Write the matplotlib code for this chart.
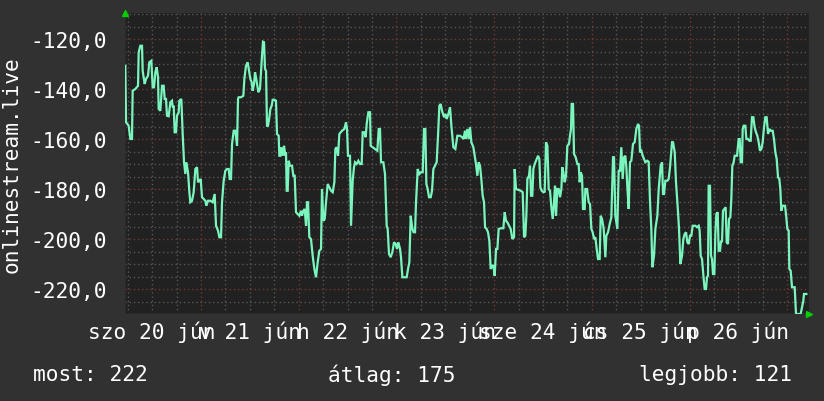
import numpy as np
import matplotlib
matplotlib.use("Agg")
import matplotlib.pyplot as plt

# -----------------------------------------
# data: hours since szo 20 jún 00:00, rank (negated)
# -----------------------------------------
hours = [
    5.41, 5.58, 6.23, 6.64, 7.05, 7.21, 7.87, 8.53, 8.69, 9.10, 9.51, 9.67, 10.16, 10.49, 10.98,
    11.31, 11.80, 12.13, 12.46, 12.78, 13.11, 13.44, 13.60, 14.01, 14.42, 14.83, 15.08, 15.40,
    15.65, 16.06, 16.47, 16.88, 17.04, 17.29, 17.53, 17.86, 18.11, 18.52, 18.68, 19.17, 19.50,
    19.83, 20.15, 20.40, 20.81, 21.14, 21.38, 21.79, 22.20, 22.61, 23.02, 23.27, 23.59, 23.92,
    24.25, 24.66, 25.07, 25.31, 25.72, 26.30, 26.87, 27.36, 27.69, 28.18, 28.51, 28.92, 29.16,
    29.57, 29.98, 30.39, 30.80, 31.05, 31.37, 31.62, 32.03, 32.44, 32.85, 33.09,
    33.25, 33.83, 34.40, 34.65, 35.05, 35.46, 35.87, 36.12, 36.45, 36.69, 37.02, 37.27, 37.51,
    37.76, 38.09, 38.49, 38.74, 38.98, 39.23, 39.48, 39.72, 39.97, 40.21, 40.46, 40.79, 41.03,
    41.36, 41.61, 42.02, 42.42, 42.67, 43.08, 43.24, 43.49, 43.73, 44.06, 44.39, 44.72, 44.88,
    45.05, 45.29, 45.54, 45.86, 46.36, 46.68, 47.01, 47.34, 47.75, 48.16, 48.57, 48.81, 49.14,
    49.47, 49.80, 50.04, 50.29, 50.61, 51.02, 51.43, 51.84, 52.25, 52.66, 53.07, 53.48, 53.72,
    54.05, 54.38, 54.71, 55.12, 55.53, 55.94, 56.35, 56.76, 57.00, 57.33, 57.66, 57.98, 58.64,
    59.21, 59.62, 59.87, 60.11, 60.60, 60.85,
    61.26, 61.58, 61.83, 62.24, 62.65, 63.06, 63.47, 63.71, 64.12, 64.45, 64.70, 65.11, 65.52,
    65.68, 66.17, 66.74, 67.32, 67.65, 67.97, 68.22, 68.79, 69.20, 69.61, 69.86, 70.18, 70.59,
    71.00, 71.41, 71.82, 72.15, 72.48, 72.89, 73.13, 73.46, 73.95, 74.52, 74.93, 75.18, 75.51,
    75.92, 76.24, 76.57, 76.82, 77.23, 77.64, 78.05, 78.46, 78.78, 79.11, 79.36, 79.68, 80.01,
    80.42, 80.75, 81.08, 81.48, 81.89, 82.22, 82.55, 82.88, 83.21, 83.70, 84.02, 84.35, 84.76,
    85.17, 85.50, 85.99, 86.48, 86.97, 87.63, 88.12, 88.45, 88.86,
    89.02, 89.43, 89.75, 90.08, 90.41, 90.90, 91.23, 91.55, 91.88, 92.21, 92.54, 92.86, 93.19,
    93.52, 93.77, 94.17, 94.50, 94.83, 95.16, 95.48, 95.81, 96.14, 96.47, 96.80, 97.12, 97.61,
    98.27, 98.60, 98.92, 99.25, 99.66, 100.07, 100.48, 100.89, 101.05, 101.38, 101.87, 102.53,
    103.02, 103.35, 103.67, 103.92, 104.17, 104.57, 104.82, 105.07, 105.39, 105.64, 105.97,
    106.46, 106.79, 107.11, 107.36, 107.69, 108.10, 108.42, 108.75, 109.08, 109.41, 109.73,
    110.06, 110.39, 110.71, 110.96, 111.21, 111.53, 111.86, 112.19, 112.52, 112.76, 113.01,
    113.33, 113.66, 113.99, 114.40, 114.64, 114.89, 115.05, 115.38, 115.63, 116.04, 116.45,
    116.77, 117.02,
    117.26, 117.59, 117.84, 118.25, 118.41, 118.82, 119.23, 119.56, 119.89, 120.21, 120.54,
    120.87, 121.20, 121.52, 121.93, 122.18, 122.51, 122.92, 123.33, 123.57, 123.98, 124.39,
    124.80, 125.21, 125.45, 125.78, 126.27, 126.60, 126.93, 127.25, 127.58, 127.91, 128.24,
    128.48, 128.73, 129.06, 129.38, 129.71, 130.12, 130.53, 130.94, 131.35, 131.60, 131.84,
    132.17, 132.50, 132.82, 133.15, 133.64, 133.97, 134.30, 134.62, 134.87, 135.28, 135.61,
    136.10, 136.43, 136.92, 137.25, 137.49, 137.74, 138.06, 138.56, 138.88, 139.21, 139.70,
    139.95, 140.36, 140.68, 141.18, 141.42, 141.75, 142.16, 142.48, 142.81, 143.14, 143.47,
    143.80, 144.12, 144.45, 144.78, 145.27,
    145.43, 145.84, 146.25, 146.49, 146.74, 147.07, 147.48, 147.72, 148.05, 148.29, 148.54,
    148.70, 149.03, 149.28, 149.52, 149.77, 150.10, 150.34, 150.59, 150.92, 151.16, 151.49,
    151.73, 151.98, 152.23, 152.55, 152.88, 153.13, 153.45, 153.70, 154.03, 154.27, 154.52,
    154.85, 155.09, 155.67, 156.07, 156.32, 156.57, 156.89, 157.06, 157.30, 157.71, 157.96,
    158.37, 158.70, 159.02, 159.35, 159.68, 160.00, 160.33, 160.66, 160.99, 161.31, 161.64,
    161.97, 162.30, 162.62, 162.95, 163.28, 163.61, 163.93, 164.43, 164.75, 165.08, 165.41,
    165.74, 166.06, 166.31, 166.55, 166.88, 167.21, 167.46, 167.70, 168.03, 168.36, 168.52,
    168.85, 169.18, 169.67, 169.83, 170.16, 170.81, 171.30, 171.63, 171.96, 172.12, 172.70,
]

rank = [
    -130.7, -153.3, -154.7, -160.0, -160.0, -140.7, -140.0, -138.7, -125.3, -122.7, -122.7, -132.7,
    -138.0, -136.0, -134.7, -129.3, -128.7, -139.3, -139.3, -133.3, -131.3, -135.3, -148.0, -148.7,
    -138.7, -138.7, -144.0, -144.0, -150.7, -150.9, -145.3, -144.7, -147.3, -146.7, -157.3, -157.3,
    -150.7, -149.3, -144.7, -144.0, -158.0, -169.3, -174.0, -169.3, -173.3, -181.3, -185.3, -184.7,
    -181.3, -172.0, -171.3, -177.3, -176.7, -176.0, -183.3, -184.0, -184.7, -186.7, -184.7, -184.7,
    -185.3, -182.0, -194.7, -196.7, -199.3, -199.3, -185.3, -176.7, -172.7, -172.0, -172.0, -176.0,
    -176.0, -162.0, -156.7, -156.7, -162.7, -144.0,
    -143.3, -143.3, -142.7, -136.0, -130.7, -129.3, -133.3, -136.0, -137.3, -140.7, -138.0, -133.3,
    -135.3, -138.0, -141.3, -140.0, -133.3, -126.7, -121.1, -121.3, -132.0, -132.7, -154.7, -154.7,
    -151.3, -148.0, -146.7, -144.3, -144.3, -144.7, -158.0, -158.7, -166.7, -166.7, -163.3, -166.7,
    -162.7, -166.7, -165.3, -180.7, -180.7, -168.7, -170.7, -170.7, -174.7, -174.7, -189.3, -190.0,
    -190.7, -188.7, -190.7, -188.7, -188.0, -194.7, -185.3, -185.3, -199.3, -200.0, -206.7, -212.0,
    -215.3, -209.3, -204.7, -204.0, -180.0, -192.7, -192.0, -185.3, -178.0, -179.3, -180.7, -181.3,
    -177.3, -164.0, -163.3, -166.7, -158.0, -156.7, -156.0, -153.3, -156.0, -166.7, -166.7, -194.7,
    -176.7, -171.3, -169.3, -170.0, -168.7, -170.0, -170.0, -157.3, -157.3, -159.3, -154.0, -149.3,
    -149.3, -162.7, -163.3, -164.0, -164.7, -156.0, -156.0, -169.3, -169.3, -174.0, -194.7, -196.0,
    -206.0, -207.3, -205.3, -201.3, -202.0, -204.0, -201.3, -204.0, -207.3, -215.3, -215.3, -215.3,
    -211.3, -209.3, -190.7, -196.0, -197.3, -197.3, -185.3, -172.0, -174.0, -173.3, -173.3, -156.0,
    -156.0, -178.0, -180.0, -183.3, -183.3, -180.7, -172.0, -170.7, -169.3, -158.7, -146.7, -146.0,
    -148.7, -151.3, -150.0, -152.0, -150.0, -147.3, -154.7, -163.3, -164.0, -158.7, -158.7, -159.3,
    -160.0, -156.7,
    -160.0, -156.0, -160.0, -155.3, -161.3, -163.3, -166.7, -170.0, -174.7, -169.3, -170.7, -176.0,
    -182.7, -185.3, -195.3, -196.0, -197.3, -200.7, -212.0, -210.7, -210.7, -214.7, -204.0, -204.0,
    -196.0, -195.7, -195.7, -189.3, -192.7, -193.3, -194.7, -196.0, -200.0, -199.3, -172.0, -180.0,
    -180.3, -180.7, -181.3, -199.3, -198.7, -190.7, -176.0, -174.7, -170.7, -182.7, -182.7, -172.0,
    -170.0, -168.0, -166.7, -168.0, -179.3, -180.7, -181.3, -181.1, -161.3, -162.7, -180.0, -180.7,
    -187.3, -192.0, -185.3, -178.7, -190.7, -180.0, -180.0, -183.3, -180.0, -171.3, -173.3, -177.3,
    -174.7, -162.7, -162.0, -158.7, -156.0, -146.0, -146.0, -166.0, -167.3, -170.0, -170.0, -177.3,
    -173.3, -174.7, -188.0, -188.0, -180.0, -180.0, -185.3, -186.0, -196.0, -197.3, -200.0, -199.3,
    -204.0, -208.0, -208.0, -190.7, -192.0, -196.0, -207.3, -198.7, -197.3, -194.0, -191.3, -167.3,
    -167.3, -190.7, -196.0, -172.7, -172.7, -163.3, -176.0, -167.3, -166.7, -171.3, -179.3, -188.0,
    -169.3, -168.7, -162.0, -161.3, -156.0, -154.0, -154.7, -165.3, -164.7, -166.7, -168.0, -169.3,
    -168.7, -169.1, -185.3, -196.0, -211.3, -206.7, -196.0, -190.7, -180.0, -170.7, -169.3, -182.0,
    -182.0, -176.7, -176.7, -176.0, -171.3, -161.3, -161.3, -165.3, -177.3, -189.3, -196.0, -210.0,
    -206.7, -200.0, -198.0, -197.3, -201.3, -202.0, -198.7, -198.7, -194.7, -194.7,
    -194.7, -195.3, -194.7, -196.7, -206.7, -208.0, -216.0, -220.0, -220.0, -215.3, -214.7, -178.7,
    -178.7, -206.7, -208.0, -214.0, -214.0, -198.0, -190.0, -189.3, -204.7, -204.7, -200.7, -201.3,
    -188.7, -188.0, -187.3, -201.3, -202.0, -192.0, -191.3, -184.0, -170.7, -169.3, -166.7, -166.7,
    -160.0, -160.0, -169.3, -169.3, -156.0, -154.7, -154.7, -160.0, -160.0, -160.7, -160.7, -151.3,
    -151.3, -155.3, -157.3, -158.7, -161.3, -164.7, -164.0, -161.3, -155.3, -151.3, -151.3, -158.0,
    -156.0, -156.7, -156.7, -160.0, -165.3, -168.0, -175.3, -176.0, -180.0, -188.7, -186.7, -186.7,
    -186.7, -190.0, -196.0, -196.7, -212.0, -212.7, -219.3, -219.3, -219.3, -230.0, -230.0, -230.0,
    -227.3, -224.7, -222.0, -222.0,
]

day_labels = ["szo 20 jún", "v 21 jún", "h 22 jún", "k 23 jún", "sze 24 jún", "cs 25 jún", "p 26 jún"]
y_ticks = [-120, -140, -160, -180, -200, -220]
stat_names = ["most", "átlag", "legjobb"]
stat_values = [222, 175, 121]
title = "onlinestream.live"

# -----------------------------------------
# style
# -----------------------------------------
BG = "#313131"
CANVAS = "#212121"
LINE = "#7af5bd"
MINOR = "#555555"
MAJOR = "#703838"
FONT = "DejaVu Sans Mono"
FS = 15.2

plt.rcParams["font.family"] = [FONT, "DejaVu Sans"]

fig = plt.figure(figsize=(8.24, 4.02), dpi=100, facecolor=BG)
ax = fig.add_axes([125 / 824, 87 / 402, 684 / 824, 301 / 402])
ax.set_facecolor(CANVAS)

x_lo, x_hi = 5.33, 173.35
y_lo, y_hi = -230.0, -109.6
ax.set_xlim(x_lo, x_hi)
ax.set_ylim(y_lo, y_hi)

# grid: 6 h / 5 units minor, 24 h / 20 units major
for h in np.arange(6, x_hi, 6):
    col = MAJOR if h % 24 == 0 else MINOR
    ax.axvline(h, color=col, lw=1, ls=(0, (1, 2)), zorder=1)
for v in np.arange(-225, y_hi, 5):
    col = MAJOR if v % 20 == 0 else MINOR
    ax.axhline(v, color=col, lw=1, ls=(0, (1, 2)), zorder=1)

ax.plot(hours, rank, color=LINE, lw=1.6, zorder=3, solid_joinstyle="miter")

for s in ax.spines.values():
    s.set_visible(False)
ax.axvline(x_lo, color="#2a2a2a", lw=1.5, zorder=2)
ax.axhline(y_lo, color="#2a2a2a", lw=1.5, zorder=2)

ax.set_yticks(y_ticks)
ax.set_yticklabels([f"{t:.1f}".replace(".", ",") for t in y_ticks])
ax.set_xticks([12 + 24 * i for i in range(len(day_labels))])
ax.set_xticklabels(day_labels)
ax.tick_params(axis="y", length=0, pad=13, labelsize=FS, labelcolor="white")
ax.tick_params(axis="x", length=0, pad=5, labelsize=FS, labelcolor="white")

# axis arrows
ax.plot([0], [1.0], marker="^", color="#00d000", ms=5, transform=ax.transAxes,
        clip_on=False, zorder=5)
ax.plot([1.0], [0], marker=">", color="#00d000", ms=5, transform=ax.transAxes,
        clip_on=False, zorder=5)

fig.text(12 / 824, 0.59, title, rotation=90, ha="center", va="center",
         color="white", fontsize=FS)

fig.text(33 / 824, 1 - 375 / 402, f"{stat_names[0]}: {stat_values[0]}",
         ha="left", va="center", color="white", fontsize=FS)
fig.text(328 / 824, 1 - 375 / 402, f"{stat_names[1]}: {stat_values[1]}",
         ha="left", va="center", color="white", fontsize=FS)
fig.text(792 / 824, 1 - 375 / 402, f"{stat_names[2]}: {stat_values[2]}",
         ha="right", va="center", color="white", fontsize=FS)

fig.savefig("out.png", dpi=100, facecolor=BG)
